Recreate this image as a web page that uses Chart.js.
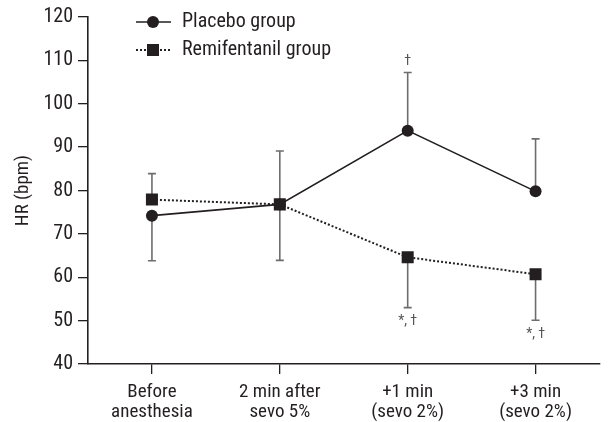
<!DOCTYPE html>
<html><head><meta charset="utf-8">
<script src="https://cdn.jsdelivr.net/npm/chart.js@4/dist/chart.umd.min.js"></script>
<style>html,body{margin:0;padding:0;background:#fff}#wrap{width:608px;height:422px}</style>
</head><body><div id="wrap"><canvas id="c" width="608" height="422"></canvas></div>
<script>
const categories = [['Before','anesthesia'],['2 min after','sevo 5%'],['+1 min','(sevo 2%)'],['+3 min','(sevo 2%)']];
const placeboMean = [74.2, 76.8, 93.8, 79.8];
const remiMean = [77.9, 76.8, 64.6, 60.7];
const placeboErrEnd = [63.8, 89.1, 107.2, 91.9];
const remiErrEnd = [83.9, 63.9, 53.0, 50.1];
const placeboNotes = ['', '', '†', ''];
const remiNotes = ['', '', '*, †', '*, †'];
const yTicks = [40, 50, 60, 70, 80, 90, 100, 110, 120];
const FONT = '"Liberation Sans Narrow", "Roboto Condensed", Roboto, sans-serif';
const INK = '#231f20';

const errPlugin = {
  id: 'err',
  beforeDatasetsDraw(chart) {
    const ctx = chart.ctx, x = chart.scales.x, y = chart.scales.y;
    ctx.save();
    ctx.strokeStyle = '#6d6d6d'; ctx.lineWidth = 1.6;
    const draw = (means, ends) => means.forEach((m, i) => {
      const px = x.getPixelForValue(i), p0 = y.getPixelForValue(m), p1 = y.getPixelForValue(ends[i]);
      ctx.beginPath(); ctx.moveTo(px, p0); ctx.lineTo(px, p1);
      ctx.moveTo(px - 4, p1); ctx.lineTo(px + 4, p1); ctx.stroke();
    });
    draw(placeboMean, placeboErrEnd);
    draw(remiMean, remiErrEnd);
    ctx.restore();
  },
  afterDatasetsDraw(chart) {
    const ctx = chart.ctx, x = chart.scales.x, y = chart.scales.y;
    ctx.save();
    ctx.fillStyle = '#555'; ctx.font = '14px ' + FONT; ctx.textAlign = 'center';
    placeboNotes.forEach((t, i) => { if (t) { ctx.textBaseline = 'bottom'; ctx.fillText(t, x.getPixelForValue(i), y.getPixelForValue(placeboErrEnd[i]) - 4); } });
    remiNotes.forEach((t, i) => { if (t) { ctx.textBaseline = 'top'; ctx.fillText(t, x.getPixelForValue(i), y.getPixelForValue(remiErrEnd[i]) + 7); } });
    // legend
    const ds = chart.data.datasets;
    const rows = [{y: 22, dash: [], w: 1.6, style: 'circle'}, {y: 50, dash: [2, 2], w: 2, style: 'rect'}];
    rows.forEach((r, k) => {
      ctx.strokeStyle = INK; ctx.fillStyle = INK; ctx.lineWidth = r.w; ctx.setLineDash(r.dash);
      ctx.beginPath(); ctx.moveTo(136, r.y); ctx.lineTo(171, r.y); ctx.stroke(); ctx.setLineDash([]);
      if (r.style === 'circle') { ctx.beginPath(); ctx.arc(153, r.y, 6, 0, Math.PI * 2); ctx.fill(); }
      else { ctx.fillRect(147, r.y - 6, 12, 12); }
      ctx.fillStyle = INK; ctx.font = '20px ' + FONT; ctx.textAlign = 'left'; ctx.textBaseline = 'middle';
      ctx.fillText(ds[k].label, 182, r.y);
    });
    ctx.restore();
  }
};

new Chart(document.getElementById('c'), {
  type: 'line',
  data: {
    labels: categories,
    datasets: [
      {label: 'Placebo group', data: placeboMean, borderColor: INK, backgroundColor: INK, borderWidth: 1.6,
       pointStyle: 'circle', pointRadius: 6, pointBorderWidth: 0, tension: 0},
      {label: 'Remifentanil group', data: remiMean, borderColor: INK, backgroundColor: INK, borderWidth: 2, borderDash: [2, 2],
       pointStyle: 'rect', pointRadius: 8.5, pointBorderWidth: 0, tension: 0}
    ]
  },
  options: {
    responsive: false, animation: false, events: [],
    layout: {padding: {top: 15, right: 0, left: 12, bottom: 0}},
    plugins: {legend: {display: false}, tooltip: {enabled: false}},
    scales: {
      x: {
        offset: true,
        grid: {display: true, drawOnChartArea: false, drawTicks: true, tickLength: 10, color: INK, lineWidth: 1.3, offset: false},
        border: {display: true, color: INK, width: 1.6},
        ticks: {color: INK, font: {family: FONT, size: 19, lineHeight: 1.05}, padding: 8, maxRotation: 0, autoSkip: false},
        afterFit(s) { s.height = 58; }
      },
      y: {
        min: 40, max: 120,
        afterBuildTicks(s) { s.ticks = yTicks.map(v => ({value: v})); },
        grid: {display: true, drawOnChartArea: false, drawTicks: true, tickLength: 10, color: INK, lineWidth: 1.3},
        border: {display: true, color: INK, width: 1.6},
        ticks: {color: INK, font: {family: FONT, size: 20}, padding: 5},
        title: {display: true, text: 'HR (bpm)', color: INK, font: {family: FONT, size: 19}, padding: 0},
        afterFit(s) { s.width = 76; }
      }
    }
  },
  plugins: [errPlugin]
});
</script></body></html>
